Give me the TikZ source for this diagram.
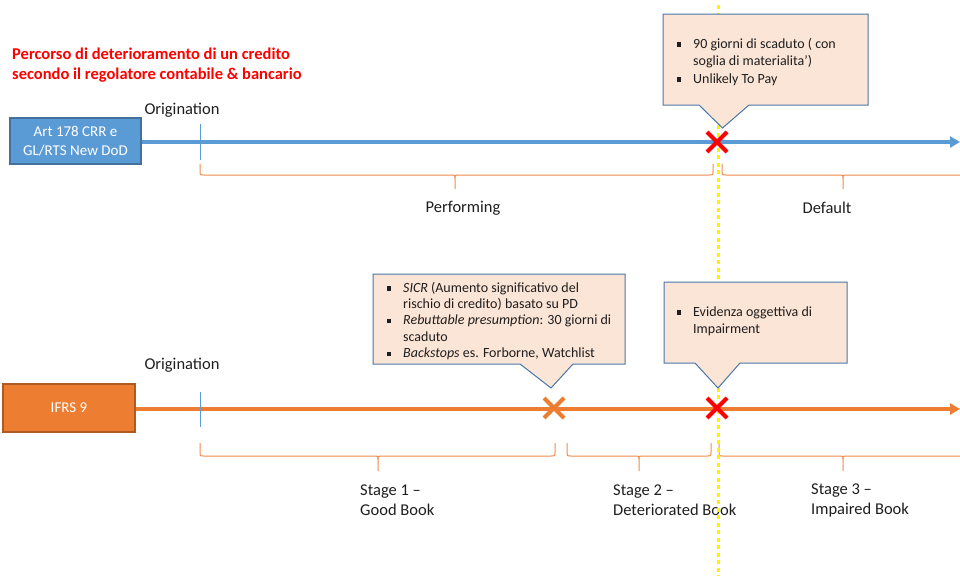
\documentclass[tikz,border=0pt]{standalone}
\usepackage{fontspec}
\setmainfont{Carlito}
\usetikzlibrary{arrows.meta,shapes.misc}
\definecolor{bluebox}{HTML}{5B9BD5}
\definecolor{blueborder}{HTML}{41719C}
\definecolor{orangebox}{HTML}{ED7D31}
\definecolor{orangeborder}{HTML}{AE5A21}
\definecolor{peach}{HTML}{FBE5D6}
\definecolor{callborder}{HTML}{4A76A8}
\definecolor{bracecol}{HTML}{F08A4B}
\definecolor{txtgray}{HTML}{1E1E1E}
\newcommand\bul{\llap{\raisebox{1.6pt}{\rule{4.2pt}{4.2pt}}\hspace{12pt}}}
\newcommand\obrace[6]{%
  \draw[bracestyle] (#1,#4) -- (#1,#5-4) .. controls (#1,#5) .. (#1+4,#5)
    -- (#3-4,#5) .. controls (#3,#5) .. (#3,#5+4) -- (#3,#6)
    -- (#3,#5+4) .. controls (#3,#5) .. (#3+4,#5)
    -- (#2-4,#5) .. controls (#2,#5) .. (#2,#5-4) -- (#2,#4);}
\tikzset{
  bracestyle/.style={draw=bracecol, line width=1pt},
  lbl/.style={font=\fontsize{16.5}{20}\selectfont, text=txtgray, inner sep=0pt},
  boxstyle/.style={rectangle, line width=1.2pt, text=white, align=center,
    font=\fontsize{15}{19}\selectfont, inner sep=0pt},
  callstyle/.style={fill=peach, draw=callborder, line width=1pt, line join=miter},
  calltext/.style={anchor=north west, align=left, inner sep=0pt, text=txtgray},
  xmark/.style={cross out, draw=#1, line width=4pt, minimum size=16pt, inner sep=0pt},
  mainline/.style={draw=#1, line width=4pt, -{Triangle[length=10pt,width=11pt]}},
  tick/.style={draw=bluebox, line width=1pt},
  yline/.style={draw=yellow, line width=3pt, dash pattern=on 4pt off 3.5pt},
}
\begin{document}
\begin{tikzpicture}[x=1pt,y=-1pt]
\useasboundingbox (0,0) rectangle (960,576);
\clip (0,0) rectangle (960,576);

% title
\node[anchor=north west, align=left, inner sep=0pt, text=red,
  font=\fontsize{16.5}{20}\selectfont\bfseries] (title) at (12,45.5)
  {\strut Percorso di deterioramento di un credito\\secondo il regolatore contabile \& bancario};

% ---------- top timeline ----------
\node[boxstyle, fill=bluebox, draw=blueborder, minimum width=131pt, minimum height=46pt]
  (crr) at (75.5,141) {Art 178 CRR e\\GL/RTS New DoD};
\coordinate (crrend) at (960,142);
\draw[mainline=bluebox] (crr.east |- 0,142) -- (crrend);
\coordinate (o1a) at (200.5,124);
\coordinate (o1b) at (200.5,160);
\draw[tick] (o1a) -- (o1b);
\node[lbl] (orig1) at (182,110) {Origination};

\obrace{200}{713}{455}{164}{175}{189}
\obrace{722}{980}{843}{164}{175}{189}
\node[lbl] (perf) at (463,208) {Performing};
\node[lbl] (def) at (827,208) {Default};

% ---------- bottom timeline ----------
\node[boxstyle, fill=orangebox, draw=orangeborder, minimum width=132pt, minimum height=48pt]
  (ifrs) at (69,408) {IFRS 9};
\coordinate (ifrsend) at (960,409);
\draw[mainline=orangebox] (ifrs.east |- 0,409) -- (ifrsend);
\coordinate (o2a) at (200.5,392);
\coordinate (o2b) at (200.5,427);
\draw[tick] (o2a) -- (o2b);
\node[lbl] (orig2) at (182,365) {Origination};

\obrace{200}{555}{378}{443}{456}{471}
\obrace{567}{711}{639}{443}{456}{471}
\obrace{719}{980}{843}{443}{456}{471}
\node[lbl, align=left, anchor=west] (s1) at (360,500) {Stage 1 –\\Good Book};
\node[lbl, align=left, anchor=west] (s2) at (613,500) {Stage 2 –\\Deteriorated Book};
\node[lbl, align=left, anchor=west] (s3) at (811,500) {Stage 3 –\\Impaired Book};

% yellow dotted line
\coordinate (ytop) at (718,5);
\coordinate (ybot) at (718,576);
\draw[yline] (ytop) -- (ybot);

% X marks
\node[xmark=red] (xdef) at (717,142) {};
\node[xmark=orangebox] (xsicr) at (554,408) {};
\node[xmark=red] (ximp) at (717,408) {};

% callout 1
\draw[callstyle] (663,14) -- (868,14) -- (868,105) -- (749,105) -- (722.5,128)
  -- (699,105) -- (663,105) -- cycle;
\node[calltext, font=\fontsize{14}{17.5}\selectfont] (c1) at (693,35.75)
  {\strut\bul 90 giorni di scaduto ( con\\soglia di materialita’)\\\bul Unlikely To Pay};

% callout 2
\draw[callstyle] (373,274) -- (625,274) -- (625,364) -- (573,364) -- (551,388)
  -- (520,364) -- (373,364) -- cycle;
\node[calltext, font=\fontsize{14}{16.4}\selectfont] (c2) at (403,280.5)
  {\strut\bul \textit{SICR} (Aumento significativo del\\rischio di credito) basato su PD\\
   \bul \textit{Rebuttable presumption}: 30 giorni di\\scaduto\\
   \bul \textit{Backstops} es. Forborne, Watchlist};

% callout 3
\draw[callstyle] (664,282) -- (847,282) -- (847,363) -- (740,363) -- (718,388)
  -- (695,363) -- (664,363) -- cycle;
\node[calltext, font=\fontsize{14}{17}\selectfont] (c3) at (693,304)
  {\strut\bul Evidenza oggettiva di\\Impairment};
\end{tikzpicture}
\end{document}
